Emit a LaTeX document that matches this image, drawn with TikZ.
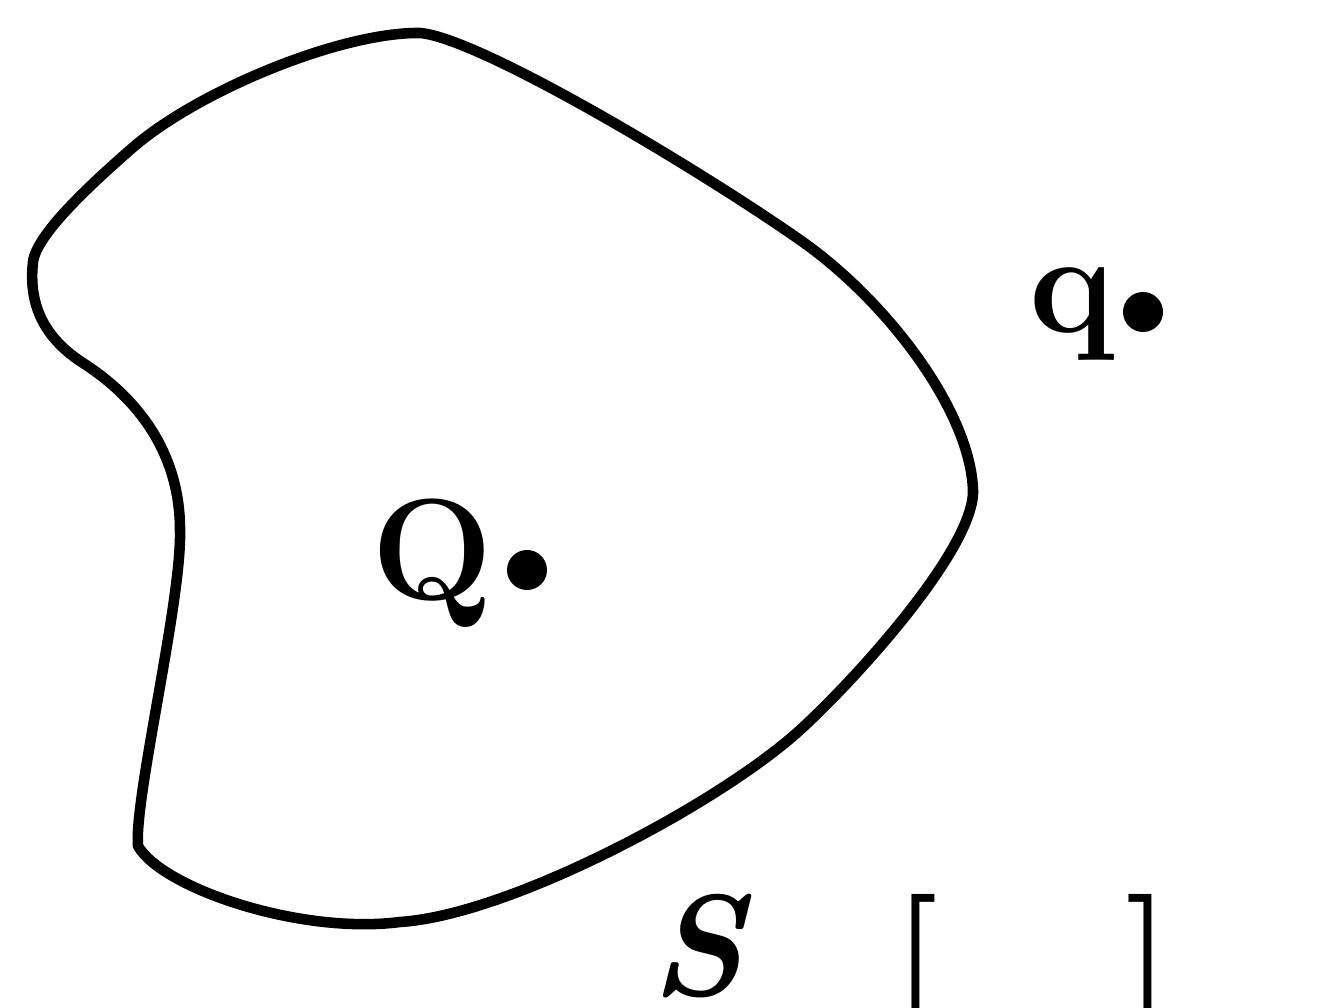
\documentclass[tikz,border=0pt]{standalone}
\begin{document}
\begin{tikzpicture}[
  outline/.style={line width=3pt, line join=round},
  dotmark/.style={fill=black, circle, inner sep=0pt, minimum size=0.4cm},
  lbl/.style={anchor=base, inner sep=0pt, font=\fontsize{41}{48}\selectfont\bfseries}
]
\useasboundingbox (0,0) rectangle (13.37,10.08);
\draw[outline] (4.20,9.75)
  .. controls (4.80,9.70) and (7.00,8.38) .. (8.00,7.68)
  .. controls (8.86,7.08) and (9.70,5.98) .. (9.73,5.18)
  .. controls (9.75,4.60) and (8.55,3.28) .. (8.00,2.78)
  .. controls (7.20,2.05) and (5.10,0.93) .. (4.00,0.86)
  .. controls (3.00,0.73) and (1.62,1.20) .. (1.38,1.62)
  .. controls (1.34,2.10) and (1.82,4.08) .. (1.80,4.78)
  .. controls (1.80,5.48) and (1.45,6.05) .. (0.83,6.45)
  .. controls (0.33,6.77) and (0.30,7.18) .. (0.33,7.46)
  .. controls (0.36,7.73) and (0.90,8.23) .. (1.30,8.58)
  .. controls (1.95,9.16) and (3.40,9.76) .. (4.20,9.75) -- cycle;
\node[lbl] (Qlabel) at (4.32,4.08) {Q};
\node[dotmark] (Qdot) at (5.27,4.38) {};
\node[lbl] (qlabel) at (10.72,6.75) {q};
\node[dotmark] (qdot) at (11.43,6.96) {};
\node[lbl] (Slabel) at (6.97,0.12) {\itshape S};
\node[lbl] (lbr) at (9.16,0.05) {[};
\node[lbl] (rbr) at (11.48,0.05) {]};
\end{tikzpicture}
\end{document}
